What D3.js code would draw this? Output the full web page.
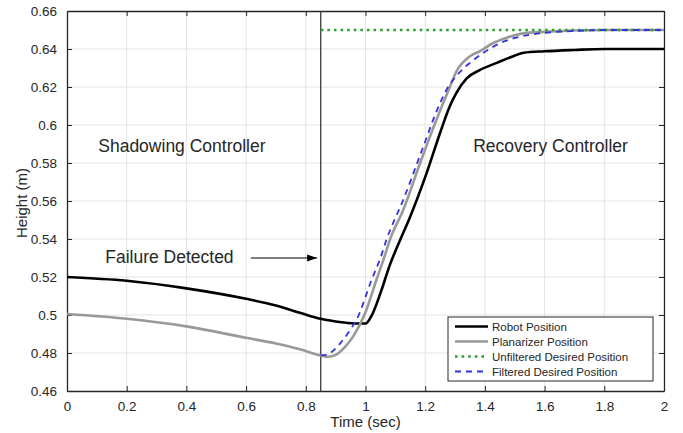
<!DOCTYPE html>
<html>
<head>
<meta charset="utf-8">
<title>Height recovery</title>
<script src="https://cdn.jsdelivr.net/npm/d3@7"></script>
<style>
  body { margin: 0; background: #fff; }
  svg text { font-family: "Liberation Sans", Arial, Helvetica, sans-serif; fill: #262626; }
</style>
</head>
<body>
<div id="chart"></div>
<script>
// data
const xTicks = [0, 0.2, 0.4, 0.6, 0.8, 1, 1.2, 1.4, 1.6, 1.8, 2];
const yTicks = [0.46, 0.48, 0.5, 0.52, 0.54, 0.56, 0.58, 0.6, 0.62, 0.64, 0.66];

const robotT = [0, 0.2, 0.4, 0.6, 0.7, 0.78, 0.85, 0.92, 0.97, 1.0, 1.02, 1.05, 1.082, 1.116, 1.149, 1.205, 1.25, 1.28, 1.305, 1.339, 1.384, 1.44, 1.495, 1.53, 1.6, 1.7, 1.8, 2.0];
const robotY = [0.520, 0.518, 0.514, 0.5085, 0.505, 0.5012, 0.498, 0.4962, 0.4955, 0.4955, 0.4995, 0.5115, 0.5265, 0.5395, 0.5515, 0.5748, 0.5959, 0.609, 0.617, 0.6245, 0.629, 0.6327, 0.6362, 0.638, 0.6388, 0.6395, 0.640, 0.640];

const planT = [0, 0.2, 0.4, 0.6, 0.7, 0.78, 0.85, 0.875, 0.9, 0.93, 0.96, 1.0, 1.037, 1.06, 1.082, 1.127, 1.183, 1.238, 1.28, 1.305, 1.35, 1.384, 1.42, 1.473, 1.54, 1.6, 1.7, 1.8, 2.0];
const planY = [0.5005, 0.498, 0.494, 0.488, 0.485, 0.482, 0.4787, 0.478, 0.479, 0.483, 0.489, 0.5015, 0.5187, 0.529, 0.5397, 0.5555, 0.580, 0.6029, 0.619, 0.6283, 0.6362, 0.6389, 0.6425, 0.6459, 0.6485, 0.649, 0.6497, 0.650, 0.650];

const unfiltT = [0.85, 2.0];
const unfiltY = [0.65, 0.65];

const filtT = [0.85, 0.87, 0.89, 0.92, 0.95, 0.97, 1.021, 1.05, 1.07, 1.127, 1.194, 1.24, 1.272, 1.3, 1.33, 1.35, 1.4, 1.45, 1.5, 1.55, 1.6, 1.7, 1.8, 2.0];
const filtY = [0.4787, 0.479, 0.481, 0.486, 0.4925, 0.4976, 0.5187, 0.530, 0.5395, 0.5608, 0.5888, 0.608, 0.6187, 0.625, 0.630, 0.6327, 0.6385, 0.643, 0.6458, 0.6475, 0.6485, 0.6495, 0.650, 0.650];

const seriesNames = ["Robot Position", "Planarizer Position", "Unfiltered Desired Position", "Filtered Desired Position"];

const failureTime = 0.85;

const W = 683, H = 433;
const margin = {top: 11, right: 19, bottom: 42, left: 67};
const width = W - margin.left - margin.right;
const height = H - margin.top - margin.bottom;

const svg = d3.select("#chart").append("svg")
    .attr("width", W)
    .attr("height", H);
const g = svg.append("g")
    .attr("transform", "translate(" + margin.left + "," + margin.top + ")");

const x = d3.scaleLinear().domain([0, 2]).range([0, width]);
const y = d3.scaleLinear().domain([0.46, 0.66]).range([height, 0]);
const fmt = d => String(+d.toFixed(2));

// grid
g.append("g").selectAll("line").data(xTicks.slice(1, -1)).enter().append("line")
    .attr("x1", d => x(d)).attr("x2", d => x(d))
    .attr("y1", 0).attr("y2", height)
    .attr("stroke", "#e3e3e3").attr("stroke-width", 1);
g.append("g").selectAll("line").data(yTicks.slice(1, -1)).enter().append("line")
    .attr("y1", d => y(d)).attr("y2", d => y(d))
    .attr("x1", 0).attr("x2", width)
    .attr("stroke", "#e3e3e3").attr("stroke-width", 1);

// axes, ticks pointing inward on all four sides
const axB = g.append("g").attr("transform", "translate(0," + height + ")")
    .call(d3.axisBottom(x).tickValues(xTicks).tickFormat(fmt).tickSizeInner(-5).tickSizeOuter(0).tickPadding(10));
const axT = g.append("g")
    .call(d3.axisTop(x).tickValues(xTicks).tickFormat("").tickSizeInner(-5).tickSizeOuter(0));
const axL = g.append("g")
    .call(d3.axisLeft(y).tickValues(yTicks).tickFormat(fmt).tickSizeInner(-5).tickSizeOuter(0).tickPadding(10));
const axR = g.append("g").attr("transform", "translate(" + width + ",0)")
    .call(d3.axisRight(y).tickValues(yTicks).tickFormat("").tickSizeInner(-5).tickSizeOuter(0));
[axB, axT, axL, axR].forEach(a => {
  a.selectAll("path").attr("stroke", "#262626").attr("stroke-width", 1.3);
  a.selectAll("line").attr("stroke", "#262626").attr("stroke-width", 1);
  a.selectAll("text").style("font-size", "13.5px").attr("fill", "#262626");
});

// failure line
g.append("line")
    .attr("x1", x(failureTime)).attr("x2", x(failureTime))
    .attr("y1", 0).attr("y2", height)
    .attr("stroke", "#3a3a3a").attr("stroke-width", 1.3);

// curves
const line = d3.line().x(d => x(d[0])).y(d => y(d[1])).curve(d3.curveMonotoneX);
const zip = (a, b) => a.map((t, i) => [t, b[i]]);
const series = [
  {pts: zip(robotT, robotY), color: "#000000", width: 2.6, dash: null},
  {pts: zip(planT, planY), color: "#999999", width: 2.6, dash: null},
  {pts: zip(unfiltT, unfiltY), color: "#2ca02c", width: 2.6, dash: "2.6,4"},
  {pts: zip(filtT, filtY), color: "#3333dd", width: 1.8, dash: "6,5"}
];
series.forEach(s => {
  g.append("path")
      .attr("d", line(s.pts))
      .attr("fill", "none")
      .attr("stroke", s.color)
      .attr("stroke-width", s.width)
      .attr("stroke-dasharray", s.dash);
});

// annotations
g.append("text").attr("x", x(0.385)).attr("y", y(0.589)).attr("dy", "0.35em")
    .attr("text-anchor", "middle").style("font-size", "17.5px").text("Shadowing Controller");
g.append("text").attr("x", x(1.62)).attr("y", y(0.589)).attr("dy", "0.35em")
    .attr("text-anchor", "middle").style("font-size", "17.5px").text("Recovery Controller");
g.append("text").attr("x", x(0.128)).attr("y", y(0.5307)).attr("dy", "0.35em")
    .style("font-size", "17.5px").text("Failure Detected");

svg.append("defs").append("marker")
    .attr("id", "arrow").attr("viewBox", "0 0 10 10")
    .attr("refX", 10).attr("refY", 5)
    .attr("markerWidth", 10).attr("markerHeight", 10)
    .attr("markerUnits", "userSpaceOnUse")
    .attr("orient", "auto")
  .append("path").attr("d", "M0,1.5 L10,5 L0,8.5 Z").attr("fill", "#000");
g.append("line")
    .attr("x1", x(0.616)).attr("x2", x(0.838))
    .attr("y1", y(0.53)).attr("y2", y(0.53))
    .attr("stroke", "#000").attr("stroke-width", 1)
    .attr("marker-end", "url(#arrow)");

// legend
const lg = svg.append("g").attr("transform", "translate(448,317)");
lg.append("rect").attr("width", 205).attr("height", 64)
    .attr("fill", "#fff").attr("stroke", "#262626").attr("stroke-width", 1);
seriesNames.forEach((name, i) => {
  const s = series[i];
  const yy = 9.5 + i * 15;
  lg.append("line").attr("x1", 7).attr("x2", 40).attr("y1", yy).attr("y2", yy)
      .attr("stroke", s.color).attr("stroke-width", s.width)
      .attr("stroke-dasharray", s.dash);
  lg.append("text").attr("x", 44).attr("y", yy).attr("dy", "0.35em")
      .style("font-size", "11.5px").attr("fill", "#000").text(name);
});

// axis labels
svg.append("text").attr("x", margin.left + width / 2).attr("y", 427)
    .attr("text-anchor", "middle").style("font-size", "15px").text("Time (sec)");
svg.append("text")
    .attr("transform", "translate(" + 26.5 + "," + (margin.top + height / 2 + 2) + ") rotate(-90)")
    .attr("text-anchor", "middle").style("font-size", "15px").text("Height (m)");
</script>
</body>
</html>
